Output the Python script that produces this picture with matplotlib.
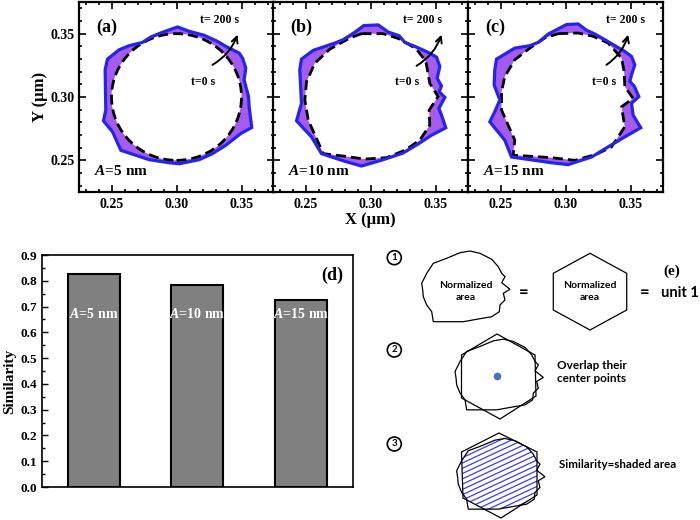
import numpy as np
import matplotlib
matplotlib.use('Agg')
import matplotlib.pyplot as plt
from matplotlib.patches import Polygon, Circle, PathPatch
from matplotlib.path import Path
from matplotlib.collections import LineCollection
from matplotlib.ticker import MultipleLocator, FormatStrFormatter

plt.rcParams['font.family'] = ['Liberation Serif', 'DejaVu Serif']
plt.rcParams['font.weight'] = 'bold'
plt.rcParams['axes.labelweight'] = 'bold'
plt.rcParams['mathtext.fontset'] = 'custom'
plt.rcParams['mathtext.it'] = 'Liberation Serif:italic:bold'
plt.rcParams['mathtext.rm'] = 'Liberation Serif:bold'

# ---------------- data ----------------
panel_labels = ['(a)', '(b)', '(c)']
amp_labels = [r'$A$=5 nm', r'$A$=10 nm', r'$A$=15 nm']
init_center = (0.30, 0.30)
init_radius = 0.05

# t = 200 s contours (blue)
a_bx = [0.2469, 0.2559, 0.2636, 0.2738, 0.2803, 0.2892, 0.3008, 0.3097, 0.3213, 0.3315,
        0.3379, 0.3482, 0.3508, 0.3533, 0.3520, 0.3554, 0.3559, 0.3579, 0.3495, 0.3379,
        0.3277, 0.3174, 0.3021, 0.2944, 0.2790, 0.2572, 0.2508, 0.2438, 0.2456, 0.2451]
a_by = [0.3299, 0.3373, 0.3405, 0.3431, 0.3474, 0.3511, 0.3553, 0.3519, 0.3487, 0.3439,
        0.3400, 0.3347, 0.3307, 0.3228, 0.3135, 0.3003, 0.2923, 0.2759, 0.2712, 0.2619,
        0.2553, 0.2505, 0.2473, 0.2481, 0.2505, 0.2579, 0.2725, 0.2812, 0.2897, 0.3214]

b_bx = [0.2469, 0.2559, 0.2726, 0.2790, 0.2879, 0.2949, 0.3059, 0.3136, 0.3220, 0.3264,
        0.3354, 0.3444, 0.3508, 0.3533, 0.3513, 0.3546, 0.3528, 0.3572, 0.3526, 0.3546,
        0.3579, 0.3469, 0.3379, 0.3251, 0.3097, 0.2931, 0.2803, 0.2623, 0.2546, 0.2431,
        0.2469, 0.2456]
b_by = [0.3299, 0.3368, 0.3426, 0.3452, 0.3511, 0.3564, 0.3569, 0.3513, 0.3484, 0.3431,
        0.3394, 0.3352, 0.3315, 0.3241, 0.3148, 0.3087, 0.3042, 0.2997, 0.2910, 0.2857,
        0.2757, 0.2698, 0.2637, 0.2558, 0.2505, 0.2455, 0.2492, 0.2553, 0.2685, 0.2812,
        0.2950, 0.3214]

c_bx = [0.2469, 0.2610, 0.2726, 0.2790, 0.2867, 0.3008, 0.3097, 0.3162, 0.3226, 0.3303,
        0.3367, 0.3456, 0.3508, 0.3533, 0.3508, 0.3495, 0.3528, 0.3564, 0.3508, 0.3520,
        0.3579, 0.3456, 0.3328, 0.3200, 0.3097, 0.3021, 0.2892, 0.2585, 0.2533, 0.2418,
        0.2456, 0.2495, 0.2451, 0.2456]
c_by = [0.3299, 0.3386, 0.3405, 0.3431, 0.3497, 0.3572, 0.3577, 0.3527, 0.3497, 0.3452,
        0.3413, 0.3360, 0.3320, 0.3254, 0.3175, 0.3122, 0.3087, 0.3003, 0.2950, 0.2857,
        0.2757, 0.2685, 0.2606, 0.2526, 0.2492, 0.2466, 0.2481, 0.2526, 0.2659, 0.2804,
        0.2884, 0.2976, 0.3095, 0.3214]

# t = 0 s contours (dashed) for (b) and (c); (a) is the initial circle
b_dx = [0.2931, 0.3097, 0.3226, 0.3354, 0.3426, 0.3456, 0.3520, 0.3451, 0.3456, 0.3379,
        0.3264, 0.3123, 0.2956, 0.2803, 0.2636, 0.2585, 0.2521, 0.2495, 0.2508, 0.2572,
        0.2687, 0.2841]
b_dy = [0.3500, 0.3500, 0.3458, 0.3378, 0.3280, 0.3108, 0.3003, 0.2897, 0.2778, 0.2659,
        0.2579, 0.2521, 0.2510, 0.2532, 0.2553, 0.2672, 0.2817, 0.2976, 0.3122, 0.3267,
        0.3378, 0.3466]
c_dx = [0.2944, 0.3097, 0.3213, 0.3328, 0.3431, 0.3451, 0.3456, 0.3520, 0.3431, 0.3456,
        0.3354, 0.3238, 0.3072, 0.2892, 0.2662, 0.2597, 0.2610, 0.2559, 0.2508, 0.2508,
        0.2533, 0.2610, 0.2726, 0.2841]
c_dy = [0.3500, 0.3505, 0.3479, 0.3426, 0.3307, 0.3201, 0.3082, 0.2989, 0.2923, 0.2765,
        0.2606, 0.2548, 0.2500, 0.2521, 0.2537, 0.2540, 0.2659, 0.2778, 0.2897, 0.3042,
        0.3161, 0.3294, 0.3386, 0.3466]

# annotation positions (data units)
t200_pos = [(0.318, 0.3606), (0.3251, 0.3606), (0.3315, 0.3606)]
t0_pos = [(0.311, 0.3122), (0.3187, 0.3122), (0.320, 0.3122)]
arrow_tail = [(0.3277, 0.3254), (0.3354, 0.3246), (0.3315, 0.3254)]
arrow_head = [(0.3469, 0.3492), (0.3546, 0.3492), (0.3482, 0.3492)]

# bar chart (d)
bar_labels = [r'$A$=5 nm', r'$A$=10 nm', r'$A$=15 nm']
similarity = [0.826, 0.784, 0.727]

# schematic (e) in pixel coordinates
blob_x = [421.7, 426.7, 433.3, 446.7, 460.0, 470.0, 480.0, 491.7, 498.3, 501.7, 505.0, 501.7,
          510.0, 503.3, 505.0, 500.0, 499.3, 491.7, 478.3, 463.3, 433.3, 431.7, 426.7, 423.3,
          422.7]
blob_y = [283.3, 273.3, 263.3, 258.3, 252.7, 251.0, 253.3, 259.3, 266.7, 273.3, 276.7, 282.7,
          289.3, 293.3, 300.0, 305.0, 311.7, 316.7, 319.0, 321.7, 321.7, 311.7, 305.0, 296.7,
          290.0]
blob_shift = [(0.0, 0.0), (33.35, 88.15), (34.95, 187.45)]
hex1 = [(590, 253.3), (626.7, 273.3), (626.7, 310), (590, 330), (553.3, 310), (553.3, 273.3)]
hex2 = [(497, 334), (535, 355), (536, 396), (500, 419), (461.5, 398), (461.5, 355)]
hex3 = [(499, 433), (537, 452), (537, 495), (501, 518), (463, 498), (461.5, 452)]
center_dot = (497, 375.5)
step_pos = [(394.3, 257.7), (394.3, 350), (394.3, 444)]
step_labels = ['1', '2', '3']

purple = '#a55af0'
blue = '#2424ee'

fig = plt.figure(figsize=(7, 5.2), dpi=100)

# ---------------- panels (a)-(c) ----------------
W, H = 700.0, 520.0
lefts = [79, 273, 468]
blues = [(a_bx, a_by), (b_bx, b_by), (c_bx, c_by)]
dashes = [None, (b_dx, b_dy), (c_dx, c_dy)]
axes_top = []
for i in range(3):
    ax = fig.add_axes([lefts[i] / W, 1 - 192 / H, 195 / W, 190 / H])
    axes_top.append(ax)
    bx, by = blues[i]
    ax.fill(bx, by, color=purple, lw=0, zorder=1)
    if dashes[i] is None:
        ax.add_patch(Circle(init_center, init_radius, facecolor='white', edgecolor='none', zorder=2))
        ax.add_patch(Circle(init_center, init_radius, facecolor='none', edgecolor='black',
                            lw=2.0, ls=(0, (3.6, 1.8)), zorder=3))
    else:
        dx, dy = dashes[i]
        ax.fill(dx, dy, color='white', lw=0, zorder=2)
        ax.add_patch(Polygon(np.column_stack([dx, dy]), closed=True, facecolor='none',
                             edgecolor='black', lw=2.0, ls=(0, (3.6, 1.8)), zorder=3))
    ax.add_patch(Polygon(np.column_stack([bx, by]), closed=True, facecolor='none',
                         edgecolor=blue, lw=2.3, zorder=4, joinstyle='miter'))
    ax.set_xlim(0.225, 0.375)
    ax.set_ylim(0.225, 0.375)
    ax.xaxis.set_major_locator(MultipleLocator(0.05))
    ax.yaxis.set_major_locator(MultipleLocator(0.05))
    ax.xaxis.set_minor_locator(MultipleLocator(0.01))
    ax.yaxis.set_minor_locator(MultipleLocator(0.01))
    ax.xaxis.set_major_formatter(FormatStrFormatter('%.2f'))
    ax.yaxis.set_major_formatter(FormatStrFormatter('%.2f'))
    ax.tick_params(which='both', direction='in', top=True, right=True, width=1.2, labelsize=10)
    ax.tick_params(which='major', length=5)
    ax.tick_params(which='minor', length=2.5)
    ax.tick_params(axis='x', pad=4)
    ax.tick_params(axis='y', pad=3)
    if i > 0:
        ax.tick_params(axis='y', labelleft=False)
    for s in ax.spines.values():
        s.set_linewidth(1.6)
    ax.text(0.238, 0.3553, panel_labels[i], fontsize=13, ha='left', va='center')
    ax.text(0.2367, 0.2415, amp_labels[i], fontsize=11, ha='left', va='center')
    ax.text(t200_pos[i][0], t200_pos[i][1], 't= 200 s', fontsize=8.5, ha='left', va='center')
    ax.text(t0_pos[i][0], t0_pos[i][1], 't=0 s', fontsize=8.5, ha='left', va='center')
    ax.annotate('', xy=arrow_head[i], xytext=arrow_tail[i],
                arrowprops=dict(arrowstyle='->', lw=1.4, color='black', mutation_scale=11,
                                connectionstyle='arc3,rad=0.18', shrinkA=0, shrinkB=0), zorder=5)

axes_top[0].set_ylabel('Y (μm)', fontsize=12, va='center')
axes_top[0].yaxis.set_label_coords(-0.20, 0.5)
axes_top[1].set_xlabel('X (μm)', fontsize=12, va='center')
axes_top[1].xaxis.set_label_coords(0.5, -0.15)

# ---------------- panel (d) ----------------
axd = fig.add_axes([41.7 / W, 1 - 487 / H, 311.3 / W, 232 / H])
xpos = np.arange(len(similarity))
axd.bar(xpos, similarity, width=0.5, color='#808080', edgecolor='black', linewidth=1.5)
for xp, lab in zip(xpos, bar_labels):
    axd.text(xp, 0.670, lab, color='white', fontsize=10, ha='center', va='center')
axd.set_xlim(-0.5, 2.5)
axd.set_ylim(0, 0.9)
axd.yaxis.set_major_locator(MultipleLocator(0.1))
axd.yaxis.set_minor_locator(MultipleLocator(0.05))
axd.yaxis.set_major_formatter(FormatStrFormatter('%.1f'))
axd.set_xticks([])
axd.tick_params(axis='y', which='both', direction='in', left=True, right=False, labelsize=9.5, pad=3, width=1.0)
axd.tick_params(axis='y', which='major', length=4)
axd.tick_params(axis='y', which='minor', length=2)
for s in axd.spines.values():
    s.set_linewidth(1.2)
axd.text(2.297, 0.8225, '(d)', fontsize=13, ha='center', va='center')
axd.set_ylabel('Similarity', fontsize=11, va='center')
axd.yaxis.set_label_coords(-0.102, 0.453)

# ---------------- panel (e) schematic ----------------
axe = fig.add_axes([360 / W, 0, 340 / W, 290 / H])
axe.set_xlim(360, 700)
axe.set_ylim(520, 230)
axe.axis('off')
sans = ['Lato', 'DejaVu Sans']

blob = np.column_stack([blob_x, blob_y])
blobs = [blob + np.array(s) for s in blob_shift]
hexes = [np.array(hex1), np.array(hex2), np.array(hex3)]
for k in range(3):
    axe.add_patch(Polygon(blobs[k], closed=True, fill=False, edgecolor='black', lw=0.9, zorder=4))
hex_patches = []
for k in range(3):
    p = Polygon(hexes[k], closed=True, fill=False, edgecolor='black', lw=0.9, zorder=4)
    axe.add_patch(p)
    hex_patches.append(p)

# hatch of the overlap (shape 3)
theta = np.deg2rad(25)
d = np.array([np.cos(theta), -np.sin(theta)])
nrm = np.array([np.sin(theta), np.cos(theta)])
c3 = hexes[2].mean(axis=0)
segs = [[c3 + o * nrm - 80 * d, c3 + o * nrm + 80 * d] for o in np.arange(-60, 60, 4.8)]
lc = LineCollection(segs, colors='#3b3bff', linewidths=0.9, zorder=1)
axe.add_collection(lc)
lc.set_clip_path(hex_patches[2])


def signed_area(v):
    x, y = v[:, 0], v[:, 1]
    return 0.5 * np.sum(x * np.roll(y, -1) - np.roll(x, -1) * y)


hv = hexes[2]
bv = blobs[2]
if np.sign(signed_area(hv)) == np.sign(signed_area(bv)):
    bv = bv[::-1]
verts = np.vstack([hv, hv[:1], bv, bv[:1]])
codes = ([Path.MOVETO] + [Path.LINETO] * (len(hv) - 1) + [Path.CLOSEPOLY] +
         [Path.MOVETO] + [Path.LINETO] * (len(bv) - 1) + [Path.CLOSEPOLY])
axe.add_patch(PathPatch(Path(verts, codes), facecolor='white', edgecolor='none', zorder=2))

axe.plot([center_dot[0]], [center_dot[1]], 'o', color='#4472c4', ms=4.5, zorder=5)

for (sx, sy), lab in zip(step_pos, step_labels):
    axe.add_patch(Circle((sx, sy), 7, facecolor='white', edgecolor='black', lw=1.2, zorder=4))
    axe.text(sx, sy, lab, fontsize=7, ha='center', va='center', family=sans, weight='bold', zorder=5)

axe.text(466, 291.7, 'Normalized\narea', fontsize=7.5, ha='center', va='center', family=sans,
         weight='bold', linespacing=1.5)
axe.text(590, 291.7, 'Normalized\narea', fontsize=7.5, ha='center', va='center', family=sans,
         weight='bold', linespacing=1.5)
axe.text(523.3, 291.7, '=', fontsize=12, ha='center', va='center', family=sans)
axe.text(645, 291.7, '=', fontsize=12, ha='center', va='center', family=sans)
axe.text(680, 293, 'unit 1', fontsize=10.5, ha='center', va='center', family=sans, weight='bold')
axe.text(671.7, 271.7, '(e)', fontsize=11, ha='center', va='center')
axe.text(556.7, 372, 'Overlap their\ncenter points', fontsize=8.5, ha='left', va='center',
         family=sans, weight='bold', linespacing=1.3)
axe.text(559.3, 465, 'Similarity=shaded area', fontsize=8.3, ha='left', va='center',
         family=sans, weight='bold')

fig.savefig('out.png', dpi=100)
